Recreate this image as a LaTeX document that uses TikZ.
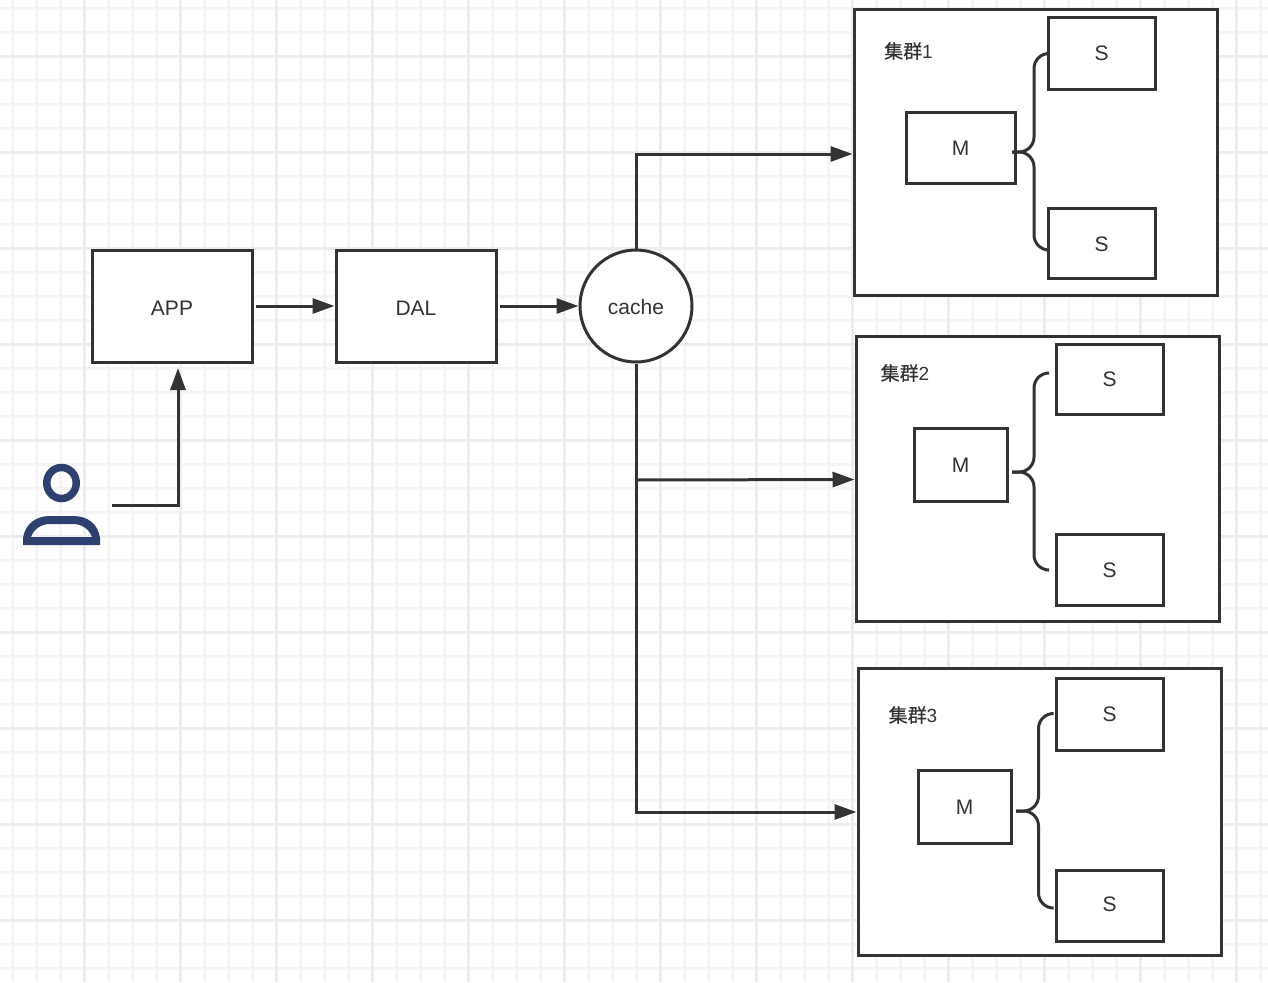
\documentclass[tikz,border=0pt]{standalone}
\usepackage{fontspec}
\usepackage{xcolor}
\usepackage{tikz}
\usetikzlibrary{calc,arrows.meta}
\setmainfont{Liberation Sans}
\newfontfamily\cjk[FakeBold=0.4]{Noto Sans CJK SC}
\definecolor{ink}{HTML}{333333}
\definecolor{minorgrid}{HTML}{F5F5F5}
\definecolor{majorgrid}{HTML}{EDEDED}
\definecolor{usercol}{HTML}{2E4070}
\tikzset{
  box/.style={draw=ink, line width=3pt, fill=white, inner sep=0pt},
  lab/.style={text=ink, font=\fontsize{21}{25}\selectfont, text height=16pt},
  mainlab/.style={lab, text height=18pt},
  grouplab/.style={text=ink, font=\fontsize{19}{23}\selectfont},
  link/.style={draw=ink, line width=3pt, -{Triangle[length=22pt,width=15pt]}},
  brace/.style={draw=ink, line width=3pt, rounded corners=15pt},
  gridminor/.style={draw=minorgrid, line width=2.3pt},
  gridmajor/.style={draw=majorgrid, line width=2.5pt}
}
\begin{document}
\begin{tikzpicture}[x=1pt,y=-1pt]
  \useasboundingbox (0,0) rectangle (1268,982);
  \fill[white] (0,0) rectangle (1268,982);

  % grid
  \foreach \gx in {0,...,52} {
    \draw[gridminor] (12.5+24*\gx,0) -- (12.5+24*\gx,982);
  }
  \foreach \gy in {0,...,40} {
    \draw[gridminor] (0,8.5+24*\gy) -- (1268,8.5+24*\gy);
  }
  \foreach \gx in {0,...,12} {
    \draw[gridmajor] (84.5+96*\gx,0) -- (84.5+96*\gx,982);
  }
  \foreach \gy in {0,...,9} {
    \draw[gridmajor] (0,56.5+96*\gy) -- (1268,56.5+96*\gy);
  }

  % clusters
  \node[box, minimum width=363pt, minimum height=285pt] (group1) at (1035.5,152.5) {};
  \node[box, minimum width=363pt, minimum height=285pt] (group2) at (1037.5,478.5) {};
  \node[box, minimum width=363pt, minimum height=287pt] (group3) at (1039.5,811.5) {};
  \node[grouplab] (name1) at (908.5,51) {{\cjk 集群}1};
  \node[grouplab] (name2) at (905,373) {{\cjk 集群}2};
  \node[grouplab] (name3) at (913,715) {{\cjk 集群}3};

  % main chain
  \node[box, mainlab, minimum width=160pt, minimum height=112pt] (app) at (172,306) {APP};
  \node[box, mainlab, minimum width=160pt, minimum height=112pt] (dal) at (416,306) {DAL};
  \node[box, mainlab, circle, minimum size=112pt] (cache) at (636,306) {cache};

  % masters and slaves
  \node[box, lab, minimum width=109pt, minimum height=71pt] (m1) at (960.5,147.5) {M};
  \node[box, lab, text height=15pt, minimum width=107pt, minimum height=71pt] (s1a) at (1101.5,53.5) {S};
  \node[box, lab, text height=17pt, minimum width=107pt, minimum height=70pt] (s1b) at (1101.5,243) {S};
  \node[box, lab, minimum width=93pt, minimum height=73pt] (m2) at (960.5,464.5) {M};
  \node[box, lab, minimum width=107pt, minimum height=70pt] (s2a) at (1109.5,379) {S};
  \node[box, lab, minimum width=107pt, minimum height=71pt] (s2b) at (1109.5,569.5) {S};
  \node[box, lab, minimum width=93pt, minimum height=73pt] (m3) at (964.5,806.5) {M};
  \node[box, lab, minimum width=107pt, minimum height=72pt] (s3a) at (1109.5,714) {S};
  \node[box, lab, text height=13pt, minimum width=107pt, minimum height=71pt] (s3b) at (1109.5,905.5) {S};

  % user icon
  \draw[usercol, line width=7.5pt] (61.5,483) ellipse (14.75pt and 15.5pt);
  \fill[usercol, even odd rule] (23,545) -- (23,538) .. controls (25,524) and (36,516) .. (50,516)
    -- (73,516) .. controls (88,516) and (98,524) .. (100,538) -- (100,545) -- cycle
    (31,537) .. controls (34,529) and (41,524) .. (50,524) -- (73,524)
    .. controls (82,524) and (89,529) .. (92,537) -- cycle;
  \coordinate (userout) at (112,505);
  \coordinate (appin) at (178,368);
  \coordinate (branch) at (636,480);

  % arrows
  \draw[link] (userout) -| (appin);
  \draw[link] ([xshift=2pt]app.east) -- (dal.west);
  \draw[link] ([xshift=2pt]dal.east) -- (cache.west);
  \draw[link] (cache.north) |- ([yshift=-1.5pt]group1.west);
  \draw[link] (branch) -- ([yshift=-1pt]group2.west);
  \draw[link] (cache.south) |- ([yshift=-0.5pt]group3.west);

  % master to slave
  \draw[brace] ([xshift=-4.5pt,yshift=-4.5pt]m1.east) -- ++(22,0) |- (s1a.west);
  \draw[brace] ([xshift=-4.5pt,yshift=-4.5pt]m1.east) -- ++(22,0) |- ([yshift=-7pt]s1b.west);
  \draw[brace] ([xshift=3.5pt,yshift=-7.5pt]m2.east) -- ++(22,0) |- ([xshift=-6.5pt,yshift=6pt]s2a.west);
  \draw[brace] ([xshift=3.5pt,yshift=-7.5pt]m2.east) -- ++(22,0) |- ([xshift=-6.5pt,yshift=-0.5pt]s2b.west);
  \draw[brace] ([xshift=3.5pt,yshift=-4.5pt]m3.east) -- ++(22.5,0) |- ([xshift=-1.5pt,yshift=0.5pt]s3a.west);
  \draw[brace] ([xshift=3.5pt,yshift=-4.5pt]m3.east) -- ++(22.5,0) |- ([xshift=-1.5pt,yshift=-2.5pt]s3b.west);
\end{tikzpicture}
\end{document}
